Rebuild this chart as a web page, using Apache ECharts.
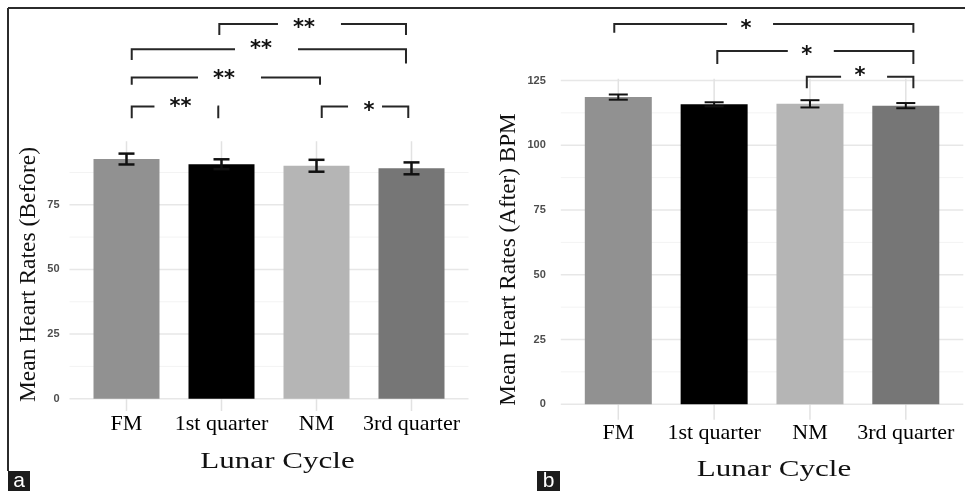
<!DOCTYPE html>
<html><head><meta charset="utf-8">
<script src="https://cdn.jsdelivr.net/npm/echarts@6/dist/echarts.min.js"></script>
<style>html,body{margin:0;padding:0;background:#fff}#chart{width:965px;height:491px}</style>
</head><body><div id="chart"></div>
<script>
const categories = ['FM', '1st quarter', 'NM', '3rd quarter'];
const beforeMeans = [92.7, 90.7, 90.1, 89.1];
const beforeErrors = [2.1, 1.9, 2.3, 2.3];
const afterMeans = [118.6, 115.8, 116.0, 115.3];
const afterErrors = [1.0, 0.8, 1.4, 1.0];
const beforeTicks = [0, 25, 50, 75];
const beforeMinorTicks = [12.5, 37.5, 62.5, 87.5];
const afterTicks = [0, 25, 50, 75, 100, 125];
const afterMinorTicks = [12.5, 37.5, 62.5, 87.5, 112.5];
const categoryPositions = [1, 2, 3, 4];
// significance brackets: [x start, x end, bracket y, left tip y, right tip y, label x, label y]
const beforeBrackets = [
  [1.977, 3.942, 144.95, 140.7, 140.7, 2.868, 144.95],
  [1.055, 3.942, 135.2, 131.0, 129.7, 2.416, 136.9],
  [1.055, 3.037, 124.2, 121.4, 121.4, 2.026, 125.3],
  [1.055, 1.966, 113.0, 108.5, 108.5, 1.568, 114.4],
  [3.055, 3.966, 113.0, 108.6, 108.6, 3.553, 113.0]
];
const beforeLabels = ['**', '**', '**', '**', '*'];
const afterBrackets = [
  [0.958, 4.079, 146.8, 143.4, 143.4, 2.333, 146.8],
  [2.033, 4.079, 136.4, 131.4, 131.4, 2.967, 136.4],
  [2.967, 4.079, 126.5, 122.0, 122.0, 3.523, 128.3]
];
const afterLabels = ['*', '*', '*'];

const barColors = ['#919191', '#000000', '#b5b5b5', '#767676'];
const serif = 'Liberation Serif';

function gridSeries(idx, values, horizontal, color, width) {
  return {
    type: 'custom', xAxisIndex: idx, yAxisIndex: idx, z: 1, silent: true,
    data: values.map(v => horizontal ? [1, v] : [v, 0]),
    renderItem: (params, api) => {
      const cs = params.coordSys;
      if (horizontal) {
        const y = api.coord([1, api.value(1)])[1];
        return { type: 'line', shape: { x1: cs.x, y1: y, x2: cs.x + cs.width, y2: y }, style: { stroke: color, lineWidth: width } };
      }
      const x = api.coord([api.value(0), 0])[0];
      return { type: 'line', shape: { x1: x, y1: cs.y, x2: x, y2: cs.y + cs.height }, style: { stroke: color, lineWidth: width } };
    }
  };
}

function barSeries(idx, means, width) {
  return {
    type: 'bar', xAxisIndex: idx, yAxisIndex: idx, z: 2, barWidth: width,
    data: means.map((m, i) => ({ value: [categoryPositions[i], m], itemStyle: { color: barColors[i] } }))
  };
}

function errorSeries(idx, means, errs, halfCap, lw) {
  return {
    type: 'custom', xAxisIndex: idx, yAxisIndex: idx, z: 3, silent: true,
    data: means.map((m, i) => [categoryPositions[i], m - errs[i], m + errs[i]]),
    renderItem: (params, api) => {
      const lo = api.coord([api.value(0), api.value(1)]);
      const hi = api.coord([api.value(0), api.value(2)]);
      const st = { stroke: '#111', lineWidth: lw };
      return {
        type: 'group', children: [
          { type: 'line', shape: { x1: lo[0], y1: lo[1], x2: hi[0], y2: hi[1] }, style: st },
          { type: 'line', shape: { x1: hi[0] - halfCap, y1: hi[1], x2: hi[0] + halfCap, y2: hi[1] }, style: st },
          { type: 'line', shape: { x1: lo[0] - halfCap, y1: lo[1], x2: lo[0] + halfCap, y2: lo[1] }, style: st }
        ]
      };
    }
  };
}

function bracketSeries(idx, rows, labels, gaps) {
  return {
    type: 'custom', xAxisIndex: idx, yAxisIndex: idx, z: 3, clip: false, silent: true,
    data: rows,
    renderItem: (params, api) => {
      const i = params.dataIndex;
      const pL = api.coord([api.value(0), api.value(2)]);
      const pR = api.coord([api.value(1), api.value(2)]);
      const tL = api.coord([api.value(0), api.value(3)]);
      const tR = api.coord([api.value(1), api.value(4)]);
      const lab = api.coord([api.value(5), api.value(6)]);
      const mid = api.coord([api.value(5), api.value(2)]);
      const g = gaps[labels[i]];
      const leftEnd = mid[0] - g[0];
      const rightStart = Math.min(mid[0] + g[1], pR[0]);
      const st = { stroke: '#262626', lineWidth: 2, fill: 'none' };
      return {
        type: 'group', children: [
          { type: 'polyline', shape: { points: [[tL[0], tL[1]], [pL[0], pL[1]], [leftEnd, pL[1]]] }, style: st },
          { type: 'polyline', shape: { points: [[rightStart, pR[1]], [pR[0], pR[1]], [tR[0], tR[1]]] }, style: st },
          { type: 'text', x: lab[0], y: lab[1] + 5, style: { text: labels[i], fill: '#111', fontSize: 21, fontWeight: 'bold', fontFamily: 'DejaVu Sans', align: 'center', verticalAlign: 'middle' } }
        ]
      };
    }
  };
}

function xAxisDef(idx) {
  return {
    gridIndex: idx, type: 'value', min: 0.4, max: 4.6,
    axisLine: { show: false }, axisTick: { show: false }, splitLine: { show: false },
    axisLabel: { customValues: categoryPositions, formatter: v => categories[Math.round(v) - 1] || '', fontFamily: serif, fontSize: 22, color: '#000', margin: 2 }
  };
}
function yAxisDef(idx, min, max, ticks, margin) {
  return {
    gridIndex: idx, type: 'value', min: min, max: max,
    axisLine: { show: false }, axisTick: { show: false }, splitLine: { show: false },
    axisLabel: { customValues: ticks, fontFamily: 'Liberation Sans', fontWeight: 'bold', fontSize: 11, color: '#4d4d4d', margin: margin }
  };
}

const chart = echarts.init(document.getElementById('chart'), null, { renderer: 'canvas' });
chart.setOption({
  animation: false,
  backgroundColor: '#ffffff',
  grid: [
    { left: 69.5, top: 141.2, width: 399, height: 269.8 },
    { left: 560.8, top: 78.7, width: 402.5, height: 341.1 }
  ],
  xAxis: [xAxisDef(0), xAxisDef(1)],
  yAxis: [yAxisDef(0, -4.75, 99.6, beforeTicks, 10), yAxisDef(1, -6, 125.7, afterTicks, 15)],
  series: [
    gridSeries(0, beforeMinorTicks, true, '#f3f3f3', 1),
    gridSeries(0, beforeTicks, true, '#e7e7e7', 1.5),
    gridSeries(0, categoryPositions, false, '#e2e2e2', 1.5),
    barSeries(0, beforeMeans, 66),
    errorSeries(0, beforeMeans, beforeErrors, 8, 2.5),
    bracketSeries(0, beforeBrackets, beforeLabels, { '**': [26, 37], '*': [21, 13] }),
    gridSeries(1, afterMinorTicks, true, '#f3f3f3', 1),
    gridSeries(1, afterTicks, true, '#e7e7e7', 1.5),
    gridSeries(1, categoryPositions, false, '#e2e2e2', 1.5),
    barSeries(1, afterMeans, 67),
    errorSeries(1, afterMeans, afterErrors, 9.5, 2),
    bracketSeries(1, afterBrackets, afterLabels, { '*': [19, 27] })
  ],
  graphic: [
    { type: 'line', shape: { x1: 8, y1: 8, x2: 965, y2: 8 }, style: { stroke: '#2b2b2b', lineWidth: 2 } },
    { type: 'line', shape: { x1: 8, y1: 8, x2: 8, y2: 471 }, style: { stroke: '#2b2b2b', lineWidth: 2 } },
    { type: 'rect', shape: { x: 8, y: 471, width: 22, height: 20 }, style: { fill: '#1c1c1c' } },
    { type: 'text', x: 19, y: 481, style: { text: 'a', fill: '#fff', fontSize: 21, fontFamily: 'Liberation Sans', align: 'center', verticalAlign: 'middle', textAlign: 'center', textVerticalAlign: 'middle' } },
    { type: 'rect', shape: { x: 537, y: 471, width: 23, height: 20 }, style: { fill: '#1c1c1c' } },
    { type: 'text', x: 548.5, y: 481, style: { text: 'b', fill: '#fff', fontSize: 21, fontFamily: 'Liberation Sans', align: 'center', verticalAlign: 'middle', textAlign: 'center', textVerticalAlign: 'middle' } },
    { type: 'text', x: 28.7, y: 274.5, rotation: Math.PI / 2, style: { text: 'Mean Heart Rates (Before)', fill: '#111', fontSize: 23.5, fontFamily: serif, align: 'center', verticalAlign: 'middle', textAlign: 'center', textVerticalAlign: 'middle' } },
    { type: 'text', x: 509, y: 259.5, rotation: Math.PI / 2, style: { text: 'Mean Heart Rates (After) BPM', fill: '#111', fontSize: 23.2, fontFamily: serif, align: 'center', verticalAlign: 'middle', textAlign: 'center', textVerticalAlign: 'middle' } },
    { type: 'text', x: 277.5, y: 462.5, scaleX: 1.38, style: { text: 'Lunar Cycle', fill: '#111', fontSize: 22.5, fontFamily: serif, align: 'center', verticalAlign: 'middle', textAlign: 'center', textVerticalAlign: 'middle' } },
    { type: 'text', x: 774, y: 470, scaleX: 1.38, style: { text: 'Lunar Cycle', fill: '#111', fontSize: 22.5, fontFamily: serif, align: 'center', verticalAlign: 'middle', textAlign: 'center', textVerticalAlign: 'middle' } }
  ]
});
</script>
</body></html>
